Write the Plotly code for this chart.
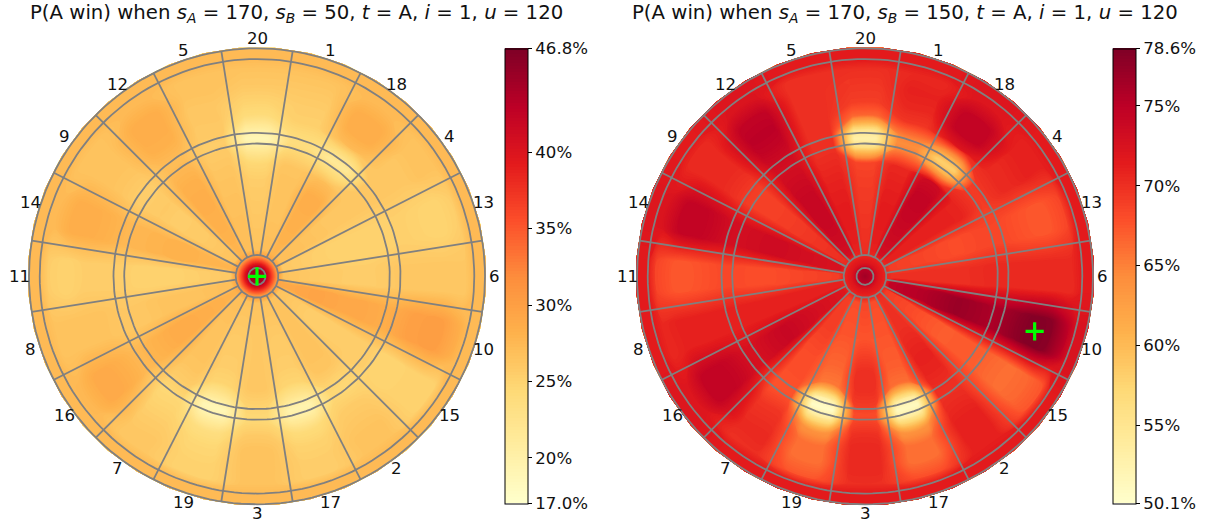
import math
import plotly.graph_objects as go

SECTORS = [20, 1, 18, 4, 13, 6, 10, 15, 2, 17, 3, 19, 7, 16, 8, 11, 14, 9, 12, 5]
# radius (mm from the bull) of each row of the tables below
RING_NODES = [0.2, 6, 8, 10, 12, 14, 16, 20, 47, 72, 85, 97, 103, 109, 120, 130, 143, 155, 162, 171]

# win probability (%) per row (inner to outer) and sector (order of SECTORS)
left_rings = [
    [46.0] * 20,
    [44.0] * 20,
    [41.0] * 20,
    [38.0] * 20,
    [35.0] * 20,
    [32.0] * 20,
    [29.5] * 20,
    [26.5, 27.0, 27.8, 27.0, 26.0, 26.5, 29.0, 26.5, 26.5, 26.5, 26.5, 26.5, 27.0, 28.0, 27.0, 26.0, 27.8, 26.5, 27.8, 27.0],
    [26.0, 26.5, 28.3, 26.5, 25.3, 25.8, 29.5, 25.5, 26.5, 25.8, 26.0, 25.8, 26.5, 28.5, 26.5, 25.3, 28.0, 25.8, 28.3, 26.8],
    [25.5, 26.5, 28.5, 26.0, 25.0, 25.5, 29.0, 25.5, 26.5, 25.5, 26.0, 25.5, 26.5, 28.8, 26.5, 25.0, 28.0, 25.5, 28.5, 26.5],
    [24.5, 26.3, 27.0, 26.0, 25.0, 25.5, 29.0, 25.5, 26.2, 24.8, 26.0, 24.8, 26.2, 28.3, 26.2, 25.0, 27.8, 25.8, 28.2, 26.2],
    [21.0, 24.5, 23.5, 26.0, 25.0, 25.8, 28.7, 25.5, 25.0, 21.5, 25.0, 21.0, 25.5, 27.8, 26.0, 25.3, 27.6, 25.6, 27.5, 25.8],
    [18.8, 23.5, 21.5, 26.0, 25.0, 26.0, 28.5, 25.5, 24.5, 19.5, 24.5, 18.8, 25.0, 27.5, 26.0, 25.5, 27.5, 25.5, 27.0, 25.5],
    [20.5, 24.0, 23.0, 26.0, 25.3, 26.0, 29.0, 25.0, 24.7, 20.5, 24.5, 20.0, 24.5, 27.5, 26.2, 25.5, 27.8, 25.8, 27.3, 25.8],
    [24.0, 25.3, 27.3, 26.0, 25.2, 26.0, 29.8, 24.8, 25.6, 24.0, 25.8, 23.5, 25.0, 28.3, 26.5, 25.5, 28.3, 26.3, 28.2, 26.0],
    [25.0, 25.5, 28.5, 26.0, 25.0, 26.0, 30.0, 25.0, 26.0, 25.0, 26.5, 24.5, 25.5, 28.8, 26.5, 25.5, 28.5, 26.5, 28.5, 26.0],
    [26.0, 26.0, 28.5, 26.5, 24.8, 26.0, 30.0, 25.0, 26.5, 25.5, 26.5, 25.0, 26.0, 28.8, 26.5, 25.0, 28.5, 26.5, 28.5, 26.5],
    [26.5, 26.5, 27.3, 26.5, 25.5, 26.0, 28.5, 25.0, 26.5, 25.5, 26.5, 25.0, 26.0, 27.5, 26.5, 25.5, 27.3, 26.5, 27.3, 26.5],
    [27.3] * 20,
    [27.3] * 20,
]
right_rings = [
    [76.5] * 20,
    [75.0] * 20,
    [73.0] * 20,
    [72.0] * 20,
    [71.5] * 20,
    [71.0] * 20,
    [70.5] * 20,
    [70.0, 71.0, 73.0, 71.0, 69.0, 70.0, 74.5, 69.0, 70.0, 68.0, 68.5, 68.0, 69.0, 72.0, 71.0, 69.0, 72.5, 70.0, 73.0, 71.0],
    [69.5, 71.5, 74.0, 71.0, 68.5, 70.0, 75.5, 68.0, 70.0, 67.5, 67.5, 67.5, 69.0, 73.0, 71.0, 68.5, 73.0, 69.5, 74.0, 71.5],
    [69.0, 71.0, 74.5, 71.0, 68.0, 70.0, 77.0, 67.0, 71.0, 67.0, 70.0, 66.5, 68.0, 74.0, 71.0, 68.0, 73.5, 69.0, 74.0, 71.0],
    [68.5, 70.5, 73.5, 70.8, 68.3, 70.2, 76.5, 67.2, 70.8, 66.0, 70.0, 65.5, 68.0, 73.5, 71.0, 68.0, 73.2, 68.8, 73.5, 70.5],
    [56.0, 65.0, 61.0, 69.5, 68.5, 70.5, 76.0, 67.2, 70.2, 54.0, 69.0, 53.0, 67.8, 72.8, 71.0, 68.3, 73.0, 68.8, 73.0, 70.0],
    [53.0, 64.0, 58.0, 69.0, 68.5, 70.5, 76.0, 67.0, 70.0, 51.0, 68.0, 50.5, 67.5, 72.5, 71.0, 68.5, 73.0, 69.0, 73.0, 70.0],
    [55.5, 65.0, 62.0, 69.5, 68.3, 70.5, 76.5, 66.8, 70.0, 54.0, 68.5, 54.0, 68.0, 73.0, 71.0, 68.2, 73.2, 69.5, 73.5, 70.0],
    [66.5, 69.5, 72.0, 70.3, 67.8, 70.5, 77.5, 66.2, 70.5, 63.5, 70.0, 63.5, 69.5, 74.0, 71.0, 67.8, 74.0, 70.2, 74.5, 70.0],
    [69.0, 70.5, 74.5, 70.5, 67.5, 70.5, 78.3, 66.0, 71.0, 66.0, 70.5, 66.0, 70.0, 74.5, 71.0, 67.5, 74.5, 70.5, 75.0, 70.0],
    [69.5, 71.0, 74.3, 71.0, 67.5, 70.5, 78.0, 66.5, 71.0, 66.0, 70.5, 66.0, 70.5, 74.3, 71.0, 67.5, 74.3, 70.5, 74.5, 70.0],
    [70.0, 70.5, 72.0, 71.0, 68.5, 70.5, 75.0, 67.5, 71.0, 68.0, 70.0, 67.5, 70.0, 72.0, 70.5, 68.5, 72.3, 70.5, 72.3, 70.0],
    [71.5, 71.5, 72.0, 71.5, 71.5, 71.5, 72.5, 71.5, 71.5, 71.5, 71.5, 71.5, 71.5, 72.0, 71.5, 71.5, 72.0, 71.5, 72.0, 71.5],
    [71.5, 71.5, 72.0, 71.5, 71.5, 71.5, 72.5, 71.5, 71.5, 71.5, 71.5, 71.5, 71.5, 72.0, 71.5, 71.5, 72.0, 71.5, 72.0, 71.5],
]

left_range = [17.0, 46.8]
right_range = [50.1, 78.6]
left_ticks = [17.0, 20, 25, 30, 35, 40, 46.8]
left_ticktext = ["17.0%", "20%", "25%", "30%", "35%", "40%", "46.8%"]
right_ticks = [50.1, 55, 60, 65, 70, 75, 78.6]
right_ticktext = ["50.1%", "55%", "60%", "65%", "70%", "75%", "78.6%"]
left_best = (0, 0)        # (ring radius, angle clockwise from the top)
right_best = (133, 108)
left_title = "P(A win) when <i>s<sub>A</sub></i> = 170, <i>s<sub>B</sub></i> = 50, <i>t</i> = A, <i>i</i> = 1, <i>u</i> = 120"
right_title = "P(A win) when <i>s<sub>A</sub></i> = 170, <i>s<sub>B</sub></i> = 150, <i>t</i> = A, <i>i</i> = 1, <i>u</i> = 120"

YLORRD = ["#ffffcc", "#ffeda0", "#fed976", "#feb24c", "#fd8d3c", "#fc4e2a", "#e31a1c", "#bd0026", "#800026"]
COLORSCALE = [[i / 8, c] for i, c in enumerate(YLORRD)]
WIRE_RINGS = [6.35, 15.9, 99, 107, 162, 170]
WIRE = "#808080"
FONT = "DejaVu Sans"
W, H = 1208, 525
PX = 228 / 170
HALF = 184
PLATEAU = 4.5  # each sector's value holds from -4.5 to +4.5 degrees about its centre

THETA_NODES = []
for k in range(20):
    THETA_NODES += [18 * k - PLATEAU, 18 * k + PLATEAU]
THETA_NODES.append(18 * 20 - PLATEAU)


def polar(r, deg):
    a = math.radians(deg)
    return r * math.sin(a), r * math.cos(a)


fig = go.Figure()
layout = dict(
    width=W, height=H, autosize=False, paper_bgcolor="white", plot_bgcolor="white",
    margin=dict(l=0, r=0, t=0, b=0), showlegend=False, annotations=[],
)
HIDDEN = dict(showticklabels="none", showgrid=False, showline=False, startline=False, endline=False,
              minorgridcount=0, smoothing=0)


def panel(idx, cx, cy, table, zr, ticks, ticktext, best, title, title_x, bar_x):
    xn = "x" if idx == 0 else "x2"
    yn = "y" if idx == 0 else "y2"
    half_px = HALF * PX
    ax = dict(range=[-HALF, HALF], visible=False, fixedrange=True)
    layout["xaxis" + ("" if idx == 0 else "2")] = dict(
        ax, domain=[(cx - half_px) / W, (cx + half_px) / W], anchor=yn)
    layout["yaxis" + ("" if idx == 0 else "2")] = dict(
        ax, domain=[(H - cy - half_px) / H, (H - cy + half_px) / H], anchor=xn)

    cid = "board%d" % idx
    cols = [[polar(r, t) for r in RING_NODES] for t in THETA_NODES]
    fig.add_trace(go.Carpet(
        carpet=cid, a=RING_NODES, b=THETA_NODES,
        x=[[p[0] for p in row] for row in cols], y=[[p[1] for p in row] for row in cols],
        aaxis=HIDDEN, baxis=HIDDEN, xaxis=xn, yaxis=yn,
    ))
    z = []
    for n in range(len(THETA_NODES)):
        k = (n // 2) % 20
        z.append([row[k] for row in table])
    fig.add_trace(go.Contourcarpet(
        carpet=cid, a=RING_NODES, b=THETA_NODES, z=z, zmin=zr[0], zmax=zr[1], zauto=False,
        autocontour=False, contours=dict(start=zr[0], end=zr[1], size=0.2, coloring="fill", showlines=False),
        line=dict(width=0), colorscale=COLORSCALE, xaxis=xn, yaxis=yn,
        colorbar=dict(
            x=bar_x / W, xanchor="left", xpad=0, ypad=0, thickness=23, thicknessmode="pixels",
            len=455 / H, lenmode="fraction", y=(H - 503.5) / H, yanchor="bottom",
            tickmode="array", tickvals=ticks, ticktext=ticktext, ticks="outside", ticklen=4,
            tickwidth=1, tickcolor="black", outlinewidth=1, outlinecolor="black",
            tickfont=dict(family=FONT, size=16.6, color="#111111"),
        ),
    ))
    # wires
    wx, wy = [], []
    for k in range(20):
        a = 9 + 18 * k
        p0, p1 = polar(15.9, a), polar(170, a)
        wx += [p0[0], p1[0], None]
        wy += [p0[1], p1[1], None]
    for rr in WIRE_RINGS:
        pts = [polar(rr, d) for d in range(0, 361, 2)]
        wx += [p[0] for p in pts] + [None]
        wy += [p[1] for p in pts] + [None]
    fig.add_trace(go.Scatter(x=wx, y=wy, mode="lines", line=dict(color=WIRE, width=1.8),
                             xaxis=xn, yaxis=yn, hoverinfo="skip"))
    bx, by = polar(best[0], best[1])
    fig.add_trace(go.Scatter(x=[bx], y=[by], mode="markers", xaxis=xn, yaxis=yn, hoverinfo="skip",
                             marker=dict(symbol="cross-thin", size=13, line=dict(color="#00ff00", width=3.2))))
    for k, s in enumerate(SECTORS):
        lx, ly = polar(177.2, 18 * k)
        layout["annotations"].append(dict(
            x=lx, y=ly, xref=xn, yref=yn, text=str(s), showarrow=False, xanchor="center", yanchor="middle",
            font=dict(family=FONT, size=16.6, color="#111111")))
    layout["annotations"].append(dict(
        x=title_x / W, y=(H - 13) / H, xref="paper", yref="paper", text=title, showarrow=False,
        xanchor="center", yanchor="middle", font=dict(family=FONT, size=19.7, color="#111111")))


panel(0, 257, 276.3, left_rings, left_range, left_ticks, left_ticktext, left_best, left_title, 296.5, 504.5)
panel(1, 865, 276.3, right_rings, right_range, right_ticks, right_ticktext, right_best, right_title, 904.5, 1112.5)

fig.update_layout(**layout)
fig.write_html("out.html", config={"displayModeBar": False},
               post_script="document.body.style.margin='0';document.body.style.overflow='hidden';")
